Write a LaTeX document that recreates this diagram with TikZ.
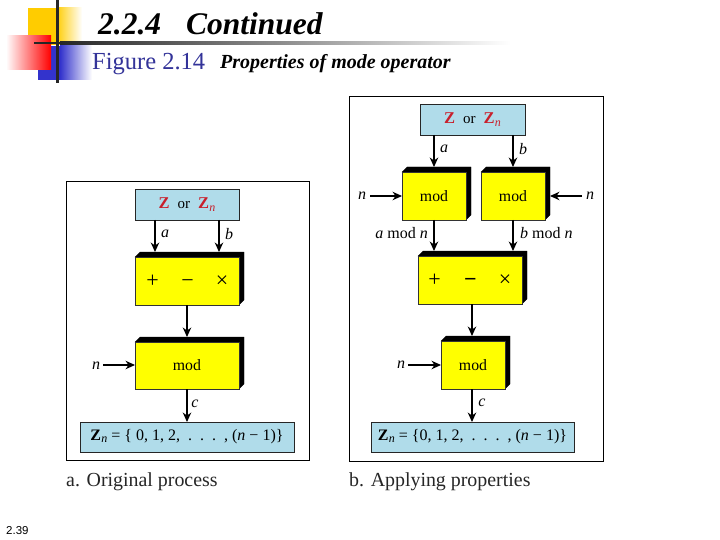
\documentclass[tikz,border=0pt]{standalone}
\usepackage{fontspec}
\setmainfont{Liberation Serif}
\newfontfamily\hsans{Liberation Sans}
\definecolor{skyb}{HTML}{B0DCEA}
\definecolor{yell}{HTML}{FFFF00}
\definecolor{zred}{HTML}{C8202C}
\definecolor{figblue}{HTML}{333399}
\definecolor{decoY}{HTML}{FFCC00}
\definecolor{decoR}{HTML}{FF0000}
\definecolor{decoB}{HTML}{3333CC}
\usetikzlibrary{arrows.meta}
\tikzset{
  frame/.style={draw=black,line width=0.9pt,fill=white},
  bluebox/.style={draw=black!85,line width=0.7pt,fill=skyb,inner sep=0pt,font=\fontsize{16}{16}\selectfont},
  facebox/.style={draw=black!80,line width=0.5pt,fill=yell,inner sep=0pt,font=\fontsize{15.8}{16}\selectfont},
  shadowpart/.style={fill=black,draw=black,line width=0.3pt},
  conn/.style={draw=black,line width=1.1pt,-{Stealth[length=9.5pt,width=8.5pt]}},
  lab/.style={inner sep=0pt,font=\fontsize{16}{16}\selectfont\itshape},
  captext/.style={inner sep=0pt,anchor=base west,font=\fontsize{19.9}{20}\selectfont,text=black!85},
  opsym/.style={inner sep=0pt,anchor=base,font=\fontsize{22}{22}\selectfont},
}
\newcommand{\zz}{\textcolor{zred}{\fontsize{16.5}{18}\selectfont\bfseries Z}}
\newcommand{\zn}{\textcolor{zred}{\fontsize{16.5}{18}\selectfont\bfseries Z\kern0.3pt\raisebox{-2.5pt}{\fontsize{12}{12}\selectfont\mdseries\itshape n}}}
\newcommand{\zorz}{\zz\hspace{8pt}{\fontsize{15}{15}\selectfont or}\hspace{8pt}\zn}
\newcommand{\subn}{\kern0.3pt\raisebox{-1.5pt}{\fontsize{12}{12}\selectfont\itshape n}}
% yellow block with a black raised top and right side; args: name, x0, y0(top of face), x1, y1
\newcommand{\yblock}[6]{%
  \fill[shadowpart] (#2,#3) -- (#2+5,#3-5) -- (#4+5,#3-5) -- (#4+5,#5-5) -- (#4,#5) -- (#4,#3) -- cycle;
  \node[facebox,minimum width=#4pt-#2pt,minimum height=#5pt-#3pt] (#1) at ({(#2+#4)/2},{(#3+#5)/2}) {#6};
}
\begin{document}
\begin{tikzpicture}[x=1pt,y=-1pt]
\useasboundingbox[fill=white] (0,0) rectangle (720,540);

% slide decoration
\fill[decoY] (28,8) rectangle (56,45);
\shade[left color=decoY,right color=white] (56,8) rectangle (82,45);
\fill[decoB] (38,46) rectangle (60,80);
\shade[left color=decoB,right color=white] (60,45) rectangle (92,80);
\shade[shading angle=-45,left color=white,right color=decoR] (6,36) rectangle (51,70);
\fill[black!85] (34,42) rectangle (60,44.5);
\shade[left color=black!85,right color=black!45] (60,42) rectangle (280,44.5);
\shade[left color=black!45,right color=white] (280,42) rectangle (510,44.5);
\fill[black!85] (56,0) rectangle (58.5,83);

% titles
\node[inner sep=0pt,anchor=base west,font=\fontsize{31.5}{32}\selectfont\bfseries\itshape] (title) at (98,35) {2.2.4\hspace{25pt}Continued};
\node[inner sep=0pt,anchor=base west,text=figblue,font=\fontsize{24.5}{25}\selectfont] (fig) at (92,70) {Figure 2.14};
\node[inner sep=0pt,anchor=base west,font=\fontsize{20}{20}\selectfont\bfseries\itshape] (sub) at (220,69) {Properties of mode operator};
\node[inner sep=0pt,anchor=base west,font=\fontsize{11.5}{12}\selectfont\hsans] (pg) at (6,534) {2.39};

% left panel
\draw[frame] (66,181) rectangle (309,460);
\node[bluebox,minimum width=104pt,minimum height=31pt] (ltop) at (187,204.5) {\zorz};
\yblock{lops}{135}{257}{239}{305}{}
\yblock{lmod}{135}{342}{239}{389}{mod}
\node[opsym] (lplus) at (152.5,287) {+};
\node[opsym] (lminus) at (187.5,287) {\char"2212};
\node[opsym] (ltimes) at (222,287) {\char"00D7};
\node[bluebox,minimum width=214pt,minimum height=30pt] (lbot) at (187,437) {\textbf{Z}\subn{} = \{ 0, 1, 2,\ \ .\ \ .\ \ .\ \ , (\textit{n} \char"2212{} 1)\}};
\coordinate (la) at (155,220);
\coordinate (lat) at (155,252);
\coordinate (lb) at (219,220);
\coordinate (lbt) at (219,252);
\draw[conn] (la) -- (lat);
\draw[conn] (lb) -- (lbt);
\node[lab] (lal) at (165,234) {a};
\node[lab] (lbl) at (229,234) {b};
\coordinate (lc1) at (187,305);
\coordinate (lc2) at (187,337);
\draw[conn] (lc1) -- (lc2);
\node[lab] (lnl) at (96,366) {n};
\coordinate (ls) at (103,365);
\coordinate (lt) at (135,365);
\draw[conn] (ls) -- (lt);
\coordinate (lc3) at (187,389);
\coordinate (lc4) at (187,422);
\draw[conn] (lc3) -- (lc4);
\node[lab] (lcl) at (195,404) {c};
\node[captext] (capa) at (66,486) {a. Original process};

% right panel
\draw[frame] (349,96) rectangle (603,461);
\node[bluebox,minimum width=105pt,minimum height=31pt] (rtop) at (472.5,119.5) {\zorz};
\yblock{rm1}{402}{172}{466}{220}{mod}
\yblock{rm2}{481}{172}{545}{220}{mod}
\yblock{rops}{418}{256}{522}{304}{}
\yblock{rm3}{441}{341}{505}{389}{mod}
\node[opsym] (rplus) at (434.5,286) {+};
\node[opsym] (rminus) at (470.5,286) {\textbf{\char"2212}};
\node[opsym] (rtimes) at (505,286) {\char"00D7};
\node[bluebox,minimum width=203pt,minimum height=30pt] (rbot) at (472.5,437) {\textbf{Z}\subn{} = \{0, 1, 2,\ \ .\ \ .\ \ .\ \ , (\textit{n} \char"2212{} 1)\}};
\coordinate (ra) at (434,135);
\coordinate (rat) at (434,167);
\coordinate (rb) at (513,135);
\coordinate (rbt) at (513,167);
\draw[conn] (ra) -- (rat);
\draw[conn] (rb) -- (rbt);
\node[lab] (ral) at (444,149) {a};
\node[lab] (rbl) at (523,149) {b};
\node[lab] (rn1) at (362,196) {n};
\node[lab] (rn2) at (590,196) {n};
\coordinate (rn1s) at (370,196);
\coordinate (rn1t) at (402,196);
\coordinate (rn2s) at (582,196);
\coordinate (rn2t) at (550,196);
\draw[conn] (rn1s) -- (rn1t);
\draw[conn] (rn2s) -- (rn2t);
\coordinate (rm1b) at (434,220);
\coordinate (rm1o) at (434,251);
\coordinate (rm2b) at (513,220);
\coordinate (rm2o) at (513,251);
\draw[conn] (rm1b) -- (rm1o);
\draw[conn] (rm2b) -- (rm2o);
\node[lab,anchor=east,font=\fontsize{16}{16}\selectfont] (ramn) at (428,233) {\textit{a} mod \textit{n}};
\node[lab,anchor=west,font=\fontsize{16}{16}\selectfont] (rbmn) at (520,233) {\textit{b} mod \textit{n}};
\coordinate (rc1) at (472,304);
\coordinate (rc2) at (472,336);
\draw[conn] (rc1) -- (rc2);
\node[lab] (rnl) at (401,365) {n};
\coordinate (rn3s) at (408,365);
\coordinate (rn3t) at (441,365);
\draw[conn] (rn3s) -- (rn3t);
\coordinate (rc3) at (472,389);
\coordinate (rc4) at (472,422);
\draw[conn] (rc3) -- (rc4);
\node[lab] (rcl) at (482,403) {c};
\node[captext] (capb) at (349,486) {b. Applying properties};
\end{tikzpicture}
\end{document}
